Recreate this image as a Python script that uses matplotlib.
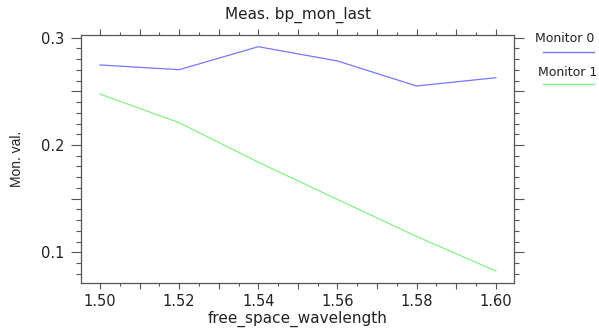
import numpy as np
import matplotlib
matplotlib.use('Agg')
import matplotlib.pyplot as plt
from matplotlib.lines import Line2D
from matplotlib.ticker import MultipleLocator, FixedLocator

plt.rcParams['font.family'] = ['DejaVu Sans']

# data
wavelength = [1.50, 1.52, 1.54, 1.56, 1.58, 1.60]
monitor0 = [0.2746, 0.2702, 0.2916, 0.2783, 0.2550, 0.2627]
monitor1 = [0.2475, 0.2208, 0.1840, 0.1493, 0.1148, 0.0826]
series_names = ['Monitor 0', 'Monitor 1']
xtick_labels = ['1.50', '1.52', '1.54', '1.56', '1.58', '1.60']
ytick_labels = ['0.1', '0.2', '0.3']

blue = '#7777ff'
green = '#88f088'
dark = '#222222'
spine_col = '#555555'

fig = plt.figure(figsize=(5.99, 3.30), dpi=100)
ax = fig.add_axes([0.1352, 0.1424, 0.7229, 0.7515])

ax.plot(wavelength, monitor0, color=blue, lw=0.9)
ax.plot(wavelength, monitor1, color=green, lw=0.9)

ax.set_xlim(1.4952, 1.6046)
ax.set_ylim(0.0714, 0.3025)

# majors every 0.01 / 0.05, labels only on every other one
ax.set_xticks(np.arange(1.50, 1.6001, 0.01))
ax.set_xticklabels([xtick_labels[i // 2] if i % 2 == 0 else '' for i in range(11)])
ax.xaxis.set_minor_locator(MultipleLocator(0.005))
ax.set_yticks(np.arange(0.1, 0.3001, 0.05))
ax.set_yticklabels([ytick_labels[i // 2] if i % 2 == 0 else '' for i in range(5)])
ax.yaxis.set_minor_locator(FixedLocator(np.arange(0.08, 0.3001, 0.01)))

ax.tick_params(axis='x', which='both', direction='out', top=True, bottom=True,
               colors=spine_col, labelcolor=dark, labelsize=10.5, pad=3.5)
ax.tick_params(axis='x', which='major', length=4.3, width=0.8)
ax.tick_params(axis='x', which='minor', length=2.5, width=0.8)
ax.tick_params(axis='y', which='both', direction='out', left=True, right=True,
               colors=spine_col, labelcolor=dark, labelsize=10.5, pad=5)
ax.tick_params(axis='y', which='major', length=7.2, width=0.8)
ax.tick_params(axis='y', which='minor', length=3.6, width=0.8)

for s in ax.spines.values():
    s.set_color(spine_col)
    s.set_linewidth(0.9)

fig.text(298 / 599, 1 - 15 / 330, 'Meas. bp_mon_last', fontsize=11,
         color=dark, ha='center', va='center')
fig.text(297.5 / 599, 1 - 319 / 330, 'free_space_wavelength', fontsize=11,
         color=dark, ha='center', va='center')
fig.text(17 / 599, 1 - 159 / 330, 'Mon. val.', fontsize=10, color=dark,
         ha='center', va='center', rotation=90, family='Liberation Sans')

# legend outside on the right
colors = [blue, green]
for i, name in enumerate(series_names):
    ty = 1 - (39 + 33 * i) / 330
    ly = 1 - (52 + 32 * i) / 330
    fig.text(565 / 599 + 0.004 * i, ty, name, fontsize=9, color=dark,
             ha='center', va='center')
    fig.add_artist(Line2D([543 / 599, 594 / 599], [ly, ly], color=colors[i],
                          lw=1.0, transform=fig.transFigure))

fig.savefig('out.png', dpi=100)
